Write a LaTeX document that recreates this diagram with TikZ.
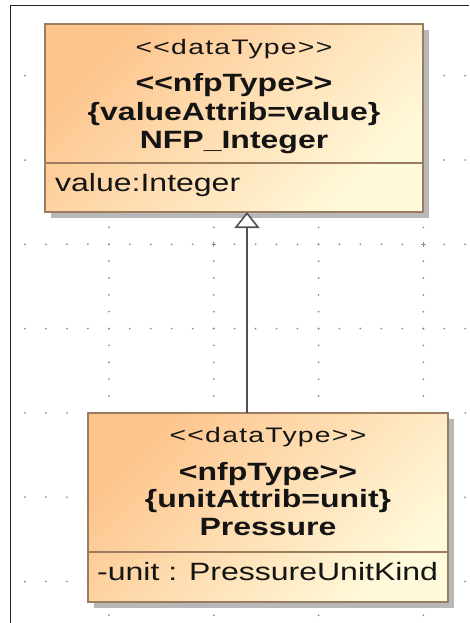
\documentclass[tikz,border=0pt]{standalone}
\usepackage{fontspec}
\setmainfont{Liberation Sans}[FakeStretch=1.28, Ligatures=TeXOff]
\newfontfamily\stereofont{Liberation Sans}[FakeStretch=1.35, LetterSpace=6, Ligatures=TeXOff]
\usetikzlibrary{arrows.meta, shadows}

\definecolor{boxhot}{HTML}{FDC48C}
\definecolor{boxcool}{HTML}{FFFADC}
\definecolor{boxline}{HTML}{9B7C5E}
\definecolor{shadowgray}{HTML}{B8B8B8}
\definecolor{griddot}{HTML}{8C8C8C}
\definecolor{genline}{HTML}{505050}
\definecolor{framecol}{HTML}{222222}
\definecolor{textcol}{HTML}{141414}

\begin{document}
\begin{tikzpicture}[x=1pt, y=1pt,
  classbox/.style={draw=boxline, line width=2.4pt, inner sep=0pt, outer sep=0pt,
    top color=boxhot, bottom color=boxcool, shading angle=45,
    drop shadow={shadow xshift=6pt, shadow yshift=-6pt, fill=shadowgray, opacity=1}},
  compline/.style={draw=boxline, line width=2pt},
  stereo/.style={inner sep=0pt, anchor=base, text=textcol,
    font=\stereofont\fontsize{21}{24}\selectfont},
  heading/.style={inner sep=0pt, anchor=base, text=textcol,
    font=\fontsize{25}{28}\selectfont\bfseries},
  attrib/.style={inner sep=0pt, anchor=base west, text=textcol,
    font=\fontsize{25}{28}\selectfont},
  dot/.style={fill=griddot},
  gen/.style={draw=genline, line width=2.2pt,
    -{Triangle[fill=white, length=16pt, width=25pt, line width=1.6pt]}}]

\useasboundingbox (0,0) rectangle (469,-623);

% outer frame
\draw[framecol, line width=1.3pt] (10.5,-623) -- (10.5,-5.3) -- (469,-5.3);

% dotted grid: rows with minor dots, columns with minor dots
\foreach \r in {0,...,6} {
  \foreach \i in {0,...,21} {
    \fill[dot] ({25+20.96*\i},{-75.7-84.3*\r}) circle (1.0);
  }
}
\foreach \c in {0,...,3} {
  \foreach \m in {0,...,32} {
    \fill[dot] ({109+104.8*\c},{-75.7-16.86*\m}) circle (1.0);
  }
}
\draw[griddot, line width=0.9pt] (213.8,-242) -- (213.8,-246.6) (211.5,-244.3) -- (216.1,-244.3);
\draw[griddot, line width=0.9pt] (423.4,-242) -- (423.4,-246.6) (421.1,-244.3) -- (425.7,-244.3);

% class boxes
\node[classbox, minimum width=378pt, minimum height=188pt] (nfpint) at (234,-118) {};
\node[classbox, minimum width=360pt, minimum height=189pt] (pressure) at (268,-507.5) {};

% compartment separators
\coordinate (sepA) at (0,-163);
\coordinate (sepB) at (0,-552);
\draw[compline] (nfpint.west |- sepA) -- (nfpint.east |- sepA);
\draw[compline] (pressure.west |- sepB) -- (pressure.east |- sepB);

% NFP_Integer texts
\node[stereo]  (nfpintS1) at (234,-55)    {<<dataType>>};
\node[heading] (nfpintS2) at (234,-92)    {<<nfpType>>};
\node[heading] (nfpintTag) at (234,-121)  {\{valueAttrib=value\}};
\node[heading] (nfpintName) at (234,-148.5) {NFP\_Integer};
\node[attrib]  (nfpintAttr) at (55,-191)  {value:Integer};

% Pressure texts
\node[stereo]  (presS1) at (268,-442)   {<<dataType>>};
\node[heading] (presS2) at (268,-480)   {<nfpType>>};
\node[heading] (presTag) at (268,-507)  {\{unitAttrib=unit\}};
\node[heading] (presName) at (268,-535) {Pressure};
\node[attrib]  (presAttr) at (97,-580)  {-unit : PressureUnitKind};

% generalization
\coordinate (genx) at (247,0);
\draw[gen] (pressure.north -| genx) -- (nfpint.south -| genx);

\end{tikzpicture}
\end{document}
